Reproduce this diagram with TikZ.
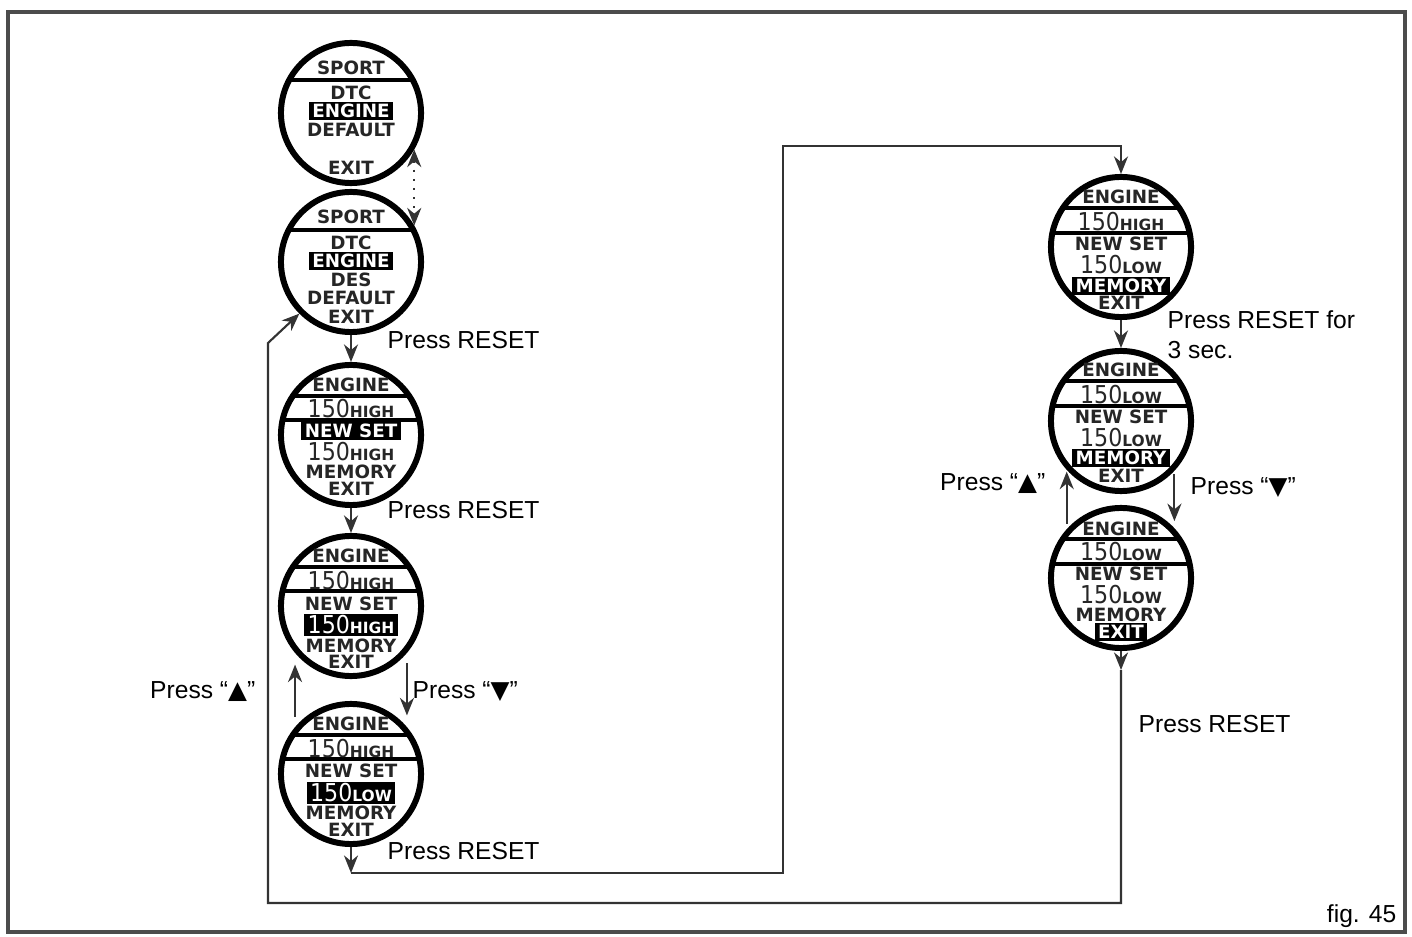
\documentclass[tikz,border=0pt]{standalone}
\usepackage{fontspec}
\setmainfont{Liberation Sans}
\newfontfamily\lcdfont{DejaVu Sans}
\newfontfamily\lcdnumfont{DejaVu Sans Condensed}
\newfontfamily\symfont{DejaVu Sans}
\usetikzlibrary{arrows.meta, calc, positioning}
\newcommand\valhigh{{\lcdnumfont\mdseries\fontsize{7}{7}\selectfont 150}{\fontsize{4.4}{5}\selectfont HIGH}}
\newcommand\vallow{{\lcdnumfont\mdseries\fontsize{7}{7}\selectfont 150}{\fontsize{4.4}{5}\selectfont LOW}}
\newcommand\triup{{\symfont ▲}}
\newcommand\tridown{{\symfont ▼}}

\begin{document}
\begin{tikzpicture}[
    x=0.01cm, y=-0.01cm,
    >={Stealth[length=5pt,width=4pt]},
    dial/.style={circle, draw, line width=1.7pt, minimum size=1.40cm, inner sep=0pt},
    lcd/.style={inner xsep=1pt, inner ysep=0.6pt, text=black!85,
                font=\lcdfont\bfseries\fontsize{5.2}{6}\selectfont},
    lcdhl/.style={lcd, fill=black, text=white},
    chord/.style={line width=0.9pt},
    flow/.style={->, line width=0.6pt, black!80},
    lbl/.style={font=\fontsize{7}{8.6}\selectfont, inner sep=0pt}
]
\useasboundingbox (0,0) rectangle (1412,937);
\draw[line width=0.9pt, black!70] (8,12) rectangle (1405,932);

% ---- dials ----
\node[dial] (c1) at (351,113) {};
\node[dial] (c2) at (351,262) {};
\node[dial] (c3) at (351,435) {};
\node[dial] (c4) at (351,606) {};
\node[dial] (c5) at (351,774) {};
\node[dial] (r1) at (1121,247) {};
\node[dial] (r2) at (1121,421) {};
\node[dial] (r3) at (1121,578) {};

% ---- separator lines inside the dials ----
\foreach \d/\dy in {c1/-33, c2/-32, c3/-39, c3/-15, c4/-39, c4/-15, c5/-39, c5/-15,
                    r1/-39, r1/-14, r2/-40, r2/-15, r3/-39, r3/-14}{%
  \begin{scope}
    \clip (\d) circle (0.7cm);
    \draw[chord] ($(\d)+(-80,\dy)$) -- ($(\d)+(80,\dy)$);
  \end{scope}
}

% ---- display rows ----
\foreach \dy/\txt/\st [count=\i] in {-45/SPORT/lcd, -20/DTC/lcd, -2/ENGINE/lcdhl,
                                     17/DEFAULT/lcd, 55/EXIT/lcd}
  \node[\st] (c1-\i) at ($(c1)+(0,\dy)$) {\txt};
\foreach \dy/\txt/\st [count=\i] in {-45/SPORT/lcd, -19/DTC/lcd, -1/ENGINE/lcdhl,
                                     18/DES/lcd, 36/DEFAULT/lcd, 55/EXIT/lcd}
  \node[\st] (c2-\i) at ($(c2)+(0,\dy)$) {\txt};
\foreach \dy/\txt/\st [count=\i] in {-50/ENGINE/lcd, -26/\valhigh/lcd, -4/NEW SET/lcdhl,
                                     17/\valhigh/lcd, 37/MEMORY/lcd, 54/EXIT/lcd}
  \node[\st] (c3-\i) at ($(c3)+(0,\dy)$) {\txt};
\foreach \dy/\txt/\st [count=\i] in {-50/ENGINE/lcd, -25/\valhigh/lcd, -2/NEW SET/lcd,
                                     19/\valhigh/lcdhl, 40/MEMORY/lcd, 56/EXIT/lcd}
  \node[\st] (c4-\i) at ($(c4)+(0,\dy)$) {\txt};
\foreach \dy/\txt/\st [count=\i] in {-50/ENGINE/lcd, -25/\valhigh/lcd, -3/NEW SET/lcd,
                                     19/\vallow/lcdhl, 39/MEMORY/lcd, 56/EXIT/lcd}
  \node[\st] (c5-\i) at ($(c5)+(0,\dy)$) {\txt};
\foreach \dy/\txt/\st [count=\i] in {-50/ENGINE/lcd, -25/\valhigh/lcd, -3/NEW SET/lcd,
                                     18/\vallow/lcd, 39/MEMORY/lcdhl, 56/EXIT/lcd}
  \node[\st] (r1-\i) at ($(r1)+(0,\dy)$) {\txt};
\foreach \dy/\txt/\st [count=\i] in {-51/ENGINE/lcd, -26/\vallow/lcd, -4/NEW SET/lcd,
                                     17/\vallow/lcd, 37/MEMORY/lcdhl, 55/EXIT/lcd}
  \node[\st] (r2-\i) at ($(r2)+(0,\dy)$) {\txt};
\foreach \dy/\txt/\st [count=\i] in {-49/ENGINE/lcd, -26/\vallow/lcd, -4/NEW SET/lcd,
                                     17/\vallow/lcd, 37/MEMORY/lcd, 54/EXIT/lcdhl}
  \node[\st] (r3-\i) at ($(r3)+(0,\dy)$) {\txt};

% ---- left column ----
\draw[flow, dotted, <->] (c1.-30) -- (c2.30);
\draw[flow] (c2.south) -- (c3.north);
\draw[flow] (c3.south) -- (c4.north);
\draw[flow, shorten <=3pt, shorten >=3.3pt] (c5.140) -- (c5.140 |- c4.220);
\draw[flow, shorten <=3pt, shorten >=3.3pt] (c4.-40) -- (c4.-40 |- c5.40);

% ---- right column ----
\draw[flow] (r1.south) -- (r2.north);
\draw[flow, shorten <=1.5pt, shorten >=0.5pt] (r3.138) -- (r3.138 |- r2.222);
\draw[flow, shorten <=1pt, shorten >=2pt] (r2.-43) -- (r2.-43 |- r3.43);

% ---- loops ----
\coordinate (b1) at (351,873);
\coordinate (b2) at (783,146);
\draw[flow] (c5.south) -- (b1);
\draw[flow] (b1) -| (b2) -| (r1.north);
\coordinate (b3) at (1121,670);
\coordinate (b4) at (268,903);
\coordinate (b5) at (268,343);
\draw[flow] (r3.south) -- (b3);
\draw[flow] (b3) |- (b4) -- (b5) -- (c2.225);

% ---- labels ----
\node[lbl, anchor=west] (t1) at (387,340) {Press RESET};
\node[lbl, anchor=west] (t2) at (387,510) {Press RESET};
\node[lbl, anchor=east] (t3) at (256,692) {Press “\triup”};
\node[lbl, anchor=west] (t4) at (412,692) {Press “\tridown”};
\node[lbl, anchor=west] (t5) at (387,851) {Press RESET};
\node[lbl, anchor=north west, align=left] (t6) at (1167,310) {Press RESET for\\3 sec.};
\node[lbl, anchor=east] (t7) at (1046,484) {Press “\triup”};
\node[lbl, anchor=west] (t8) at (1190,488) {Press “\tridown”};
\node[lbl, anchor=west] (t9) at (1138,724) {Press RESET};
\node[lbl, anchor=base east] (fig) at (1397,922) {fig. 45};
\end{tikzpicture}
\end{document}
